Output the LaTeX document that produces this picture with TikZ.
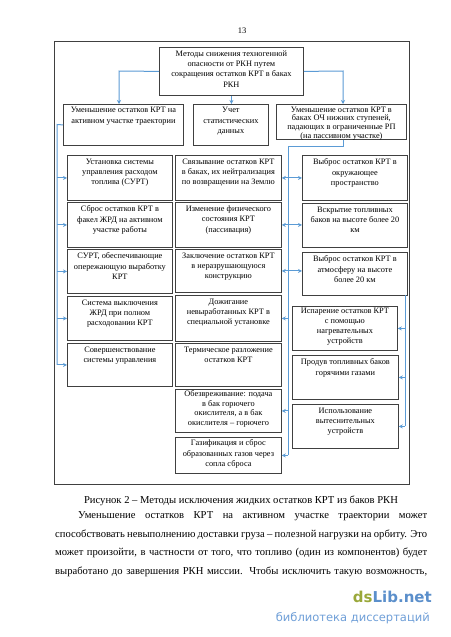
\documentclass[tikz,border=0pt]{standalone}
\usepackage{fontspec}
\setmainfont{Liberation Serif}
\newfontfamily\wmfont{DejaVu Sans}
\usetikzlibrary{arrows.meta}
\definecolor{bl}{HTML}{5B9BD5}
\definecolor{bd}{HTML}{404040}
\definecolor{wmolive}{HTML}{9AA83A}
\definecolor{wmblue}{HTML}{5B8FCB}
\definecolor{wmblue2}{HTML}{6F9FD8}
\tikzset{
  bx/.style={draw=bd, line width=0.8pt, fill=white, inner sep=0pt, anchor=north west,
    font=\fontsize{8.3}{10.2}\selectfont},
  bline/.style={draw=bl, line width=1pt},
  arr/.style={bline, -{Stealth[length=4pt,width=4pt]}},
  arrtwo/.style={bline, {Stealth[length=4pt,width=4pt]}-{Stealth[length=4pt,width=4pt]}},
  body/.style={inner sep=0pt, font=\fontsize{10.6}{12}\selectfont}
}
% name, x1, y1, x2, y2, top pad, text
\newcommand\mybox[7]{%
  \node[bx] (#1) at (#2,#3) {\begin{minipage}[c][\dimexpr #5pt-#3pt\relax][t]{\dimexpr #4pt-#2pt\relax}%
    \vspace*{#6pt}\centering #7\par\end{minipage}};}
\begin{document}
\begin{tikzpicture}[x=1pt,y=-1pt]
\useasboundingbox (0,0) rectangle (450,637);
\fill[white] (0,0) rectangle (450,637);
% page number and frame
\node[inner sep=0pt, font=\fontsize{8.5}{10}\selectfont] (pg) at (242,31) {13};
\draw[bd, line width=0.9pt] (54,41) rectangle (409,484);
% boxes
\mybox{T}{159}{47}{303}{95}{3.5}{Методы снижения техногенной\\опасности от РКН путем\\сокращения остатков КРТ в баках\\РКН}
\mybox{A}{63}{104}{183}{145}{3}{Уменьшение остатков КРТ на\\активном участке траектории}
\mybox{U}{193}{104}{268}{145}{3}{Учет\\статистических\\данных}
\mybox{P}{276}{104}{406}{139}{2.5}{\fontsize{8.3}{8.6}\selectfont Уменьшение остатков КРТ в\\баках ОЧ нижних ступеней,\\падающих в ограниченные РП\\(на пассивном участке)}
\mybox{L1}{67}{155}{172}{200}{3.5}{Установка системы\\управления расходом\\топлива (СУРТ)}
\mybox{L2}{67}{202}{172}{247}{3.5}{Сброс остатков КРТ в\\факел ЖРД на активном\\участке работы}
\mybox{L3}{67}{249}{172}{293}{3.5}{СУРТ, обеспечивающие\\опережающую выработку\\КРТ}
\mybox{L4}{67}{296}{172}{340}{3.5}{Система выключения\\ЖРД при полном\\расходовании КРТ}
\mybox{L5}{67}{343}{172}{386}{3.5}{Совершенствование\\системы управления}
\mybox{M1}{175}{155}{281}{200}{3.5}{Связывание остатков КРТ\\в баках, их нейтрализация\\по возвращении на Землю}
\mybox{M2}{175}{202}{281}{247}{3.5}{Изменение физического\\состояния КРТ\\(пассивация)}
\mybox{M3}{175}{249}{281}{292}{3.5}{Заключение остатков КРТ\\в неразрушающуюся\\конструкцию}
\mybox{M4}{175}{295}{281}{341}{3.5}{Дожигание\\невыработанных КРТ в\\специальной установке}
\mybox{M5}{175}{343}{281}{386}{3.5}{Термическое разложение\\остатков КРТ}
\mybox{M6}{175}{389}{281}{432}{1.5}{\fontsize{8.3}{9.5}\selectfont Обезвреживание: подача\\в бак горючего\\окислителя, а в бак\\окислителя – горючего}
\mybox{M7}{175}{437}{281}{473}{2.5}{Газификация и сброс\\образованных газов через\\сопла сброса}
\mybox{R1}{302}{155}{407}{200}{3.5}{Выброс остатков КРТ в\\окружающее\\пространство}
\mybox{R2}{302}{203}{407}{247}{3.5}{Вскрытие топливных\\баков на высоте более 20\\км}
\mybox{R3}{302}{252}{407}{295}{3.5}{Выброс остатков КРТ в\\атмосферу на высоте\\более 20 км}
\mybox{R4}{292}{306}{397}{350}{1.5}{\fontsize{8.3}{10}\selectfont Испарение остатков КРТ\\с помощью\\нагревательных\\устройств}
\mybox{R5}{292}{355}{398}{399}{3.5}{Продув топливных баков\\горячими газами}
\mybox{R6}{292}{404}{398}{448}{3.5}{Использование\\вытеснительных\\устройств}
% top connectors
\coordinate (ta) at (119,71);
\coordinate (tp) at (343,71);
\draw[arr] (T.west) -- (ta) -- (ta |- A.north);
\draw[arr] (T.south) -- (T.south |- U.north);
\draw[arr] (T.east) -- (tp) -- (tp |- P.north);
% left bus
\coordinate (lb) at (57,124.5);
\draw[bline] (A.west) -- (lb) -- (lb |- L5.west);
\foreach \n in {L1,L2,L3,L4,L5} \draw[arr] (lb |- \n.west) -- (\n.west);
% middle bus
\coordinate (mb) at (288,146);
\draw[bline] (tp |- P.south) -- (tp |- mb) -- (mb) -- (mb |- M7.east);
\draw[arrtwo] (M1.east) -- (M1.east -| R1.west);
\draw[arrtwo] (M2.east) -- (M2.east -| R2.west);
\draw[arrtwo] (M3.east) -- (M3.east -| R3.west);
\foreach \n in {M4,M6,M7} \draw[arr] (mb |- \n.east) -- (\n.east);
% right bus
\coordinate (rb) at (405,295);
\draw[bline] (rb) -- (rb |- R6.east);
\foreach \n in {R4,R5,R6} \draw[arr] (rb |- \n.east) -- (\n.east);
% caption and body text
\node[body, anchor=base] (cap) at (241,503) {Рисунок 2 – Методы исключения жидких остатков КРТ из баков РКН};
\node[body, anchor=base west] (p1) at (78,518.5) {\makebox[349pt][s]{Уменьшение остатков КРТ на активном участке траектории может}};
\node[body, anchor=base west] (p2) at (55,537) {\makebox[372pt][s]{способствовать невыполнению доставки груза – полезной нагрузки на орбиту. Это}};
\node[body, anchor=base west] (p3) at (55,555.5) {\makebox[372pt][s]{может произойти, в частности от того, что топливо (один из компонентов) будет}};
\node[body, anchor=base west] (p4) at (55,574) {\makebox[372pt][s]{выработано до завершения РКН миссии. Чтобы исключить такую возможность,}};
% watermark
\node[inner sep=0pt, anchor=base east] (wm1) at (432,602) {\wmfont\bfseries\fontsize{15}{15}\selectfont\textcolor{wmolive}{ds}\textcolor{wmblue}{Lib.net}};
\node[inner sep=0pt, anchor=base east] (wm2) at (430,621) {\wmfont\fontsize{11.5}{12}\selectfont\textcolor{wmblue2}{библиотека диссертаций}};
\end{tikzpicture}
\end{document}
